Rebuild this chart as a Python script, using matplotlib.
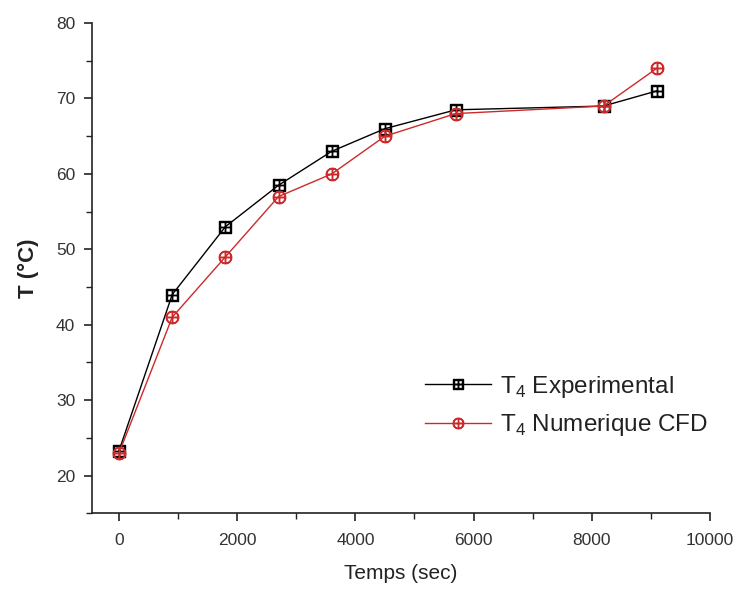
import matplotlib

matplotlib.use("Agg")
import matplotlib.pyplot as plt
from matplotlib.ticker import MultipleLocator

plt.rcParams["font.family"] = ["Liberation Sans", "DejaVu Sans"]
plt.rcParams["mathtext.fontset"] = "custom"
plt.rcParams["mathtext.rm"] = "Liberation Sans"

time_s = [0, 900, 1800, 2700, 3600, 4500, 5700, 8200, 9100]
t4_exp = [23.3, 44, 53, 58.5, 63, 66, 68.5, 69, 71]
t4_cfd = [23, 41, 49, 57, 60, 65, 68, 69, 74]

fig = plt.figure(figsize=(7.41, 5.92), dpi=100)
ax = fig.add_axes([0.124, 0.133, 0.834, 0.828])

ax.plot(time_s, t4_exp, color="black", linewidth=1.0,
        marker=r"$\boxplus$", markersize=8, label=r"T$_4$ Experimental")
ax.plot(time_s, t4_cfd, color="#cc2a2a", linewidth=1.0,
        marker=r"$\oplus$", markersize=9, label=r"T$_4$ Numerique CFD")

ax.set_xlim(-460, 10000)
ax.set_ylim(15, 80)
ax.xaxis.set_major_locator(MultipleLocator(2000))
ax.xaxis.set_minor_locator(MultipleLocator(1000))
ax.yaxis.set_major_locator(MultipleLocator(10))
ax.yaxis.set_minor_locator(MultipleLocator(5))

for side in ("top", "right"):
    ax.spines[side].set_visible(False)
for side in ("left", "bottom"):
    ax.spines[side].set_linewidth(1.2)
    ax.spines[side].set_color("#222222")

ax.tick_params(which="major", direction="out", length=6, width=1.2,
               labelsize=12.5, labelcolor="#333333", colors="#222222")
ax.tick_params(which="minor", direction="out", length=4, width=1.0, colors="#222222")
ax.tick_params(axis="x", pad=8)
ax.tick_params(axis="y", pad=6)

ax.set_xlabel("Temps (sec)", fontsize=15, color="#222222", labelpad=12)
ax.set_ylabel("T (°C)", fontsize=16, fontweight="bold", color="#222222", labelpad=12)

leg = ax.legend(loc="center right", bbox_to_anchor=(1.012, 0.219), frameon=False,
                borderaxespad=0.0, fontsize=17.5, handlelength=2.7,
                handletextpad=0.35, labelspacing=0.52, markerscale=0.85)
for txt in leg.get_texts():
    txt.set_color("#222222")

fig.savefig("out.png", dpi=100)
